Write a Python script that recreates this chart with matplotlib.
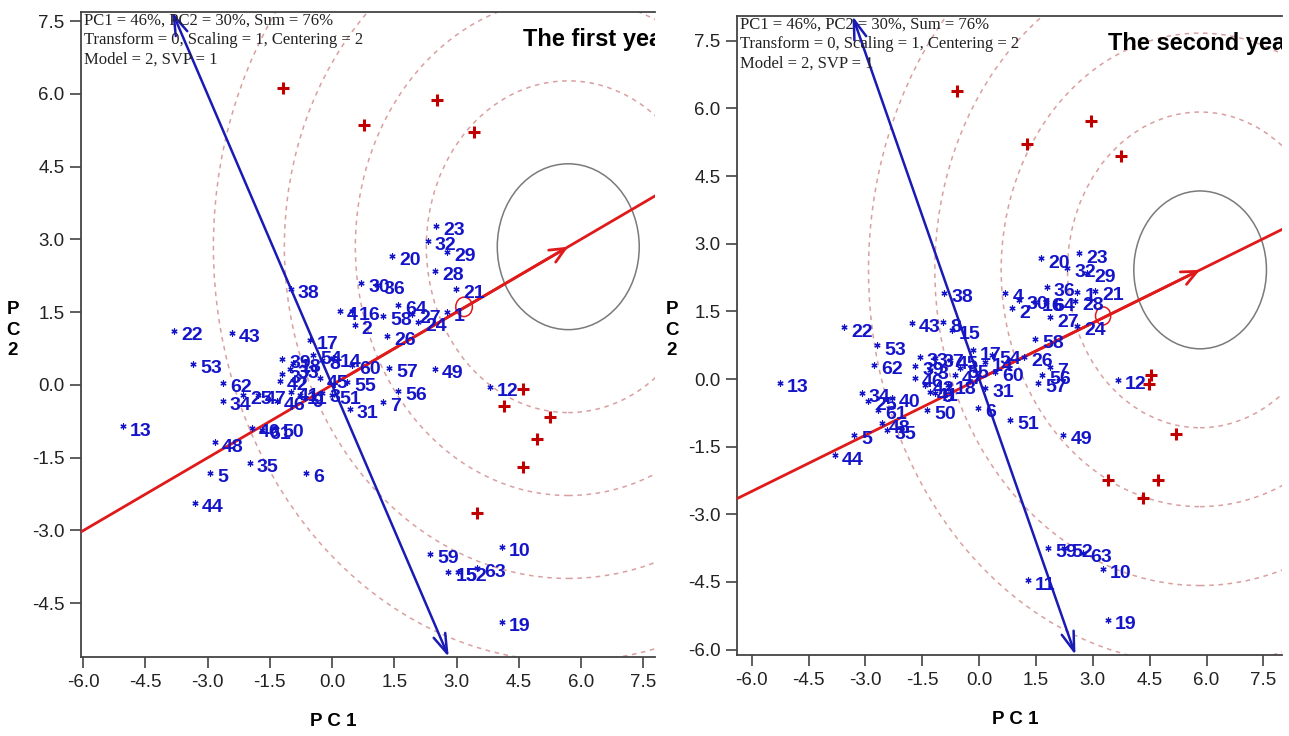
import matplotlib
matplotlib.use("Agg")
import matplotlib.pyplot as plt
from matplotlib.patches import Circle

# ---------------- data ----------------
geno = [str(i) for i in range(1, 65)]

# first year: genotype scores (PC1, PC2)
g1_x = [2.77, 0.55, -0.24, 0.19, -2.94, -0.63, 1.23, -0.24, -0.65, 4.10,
        -0.77, 3.81, -5.04, 0.02, 2.80, 0.48, -0.53, -0.94, 4.10, 1.45,
        2.99, -3.81, 2.51, 2.07, -2.14, 1.33, 1.93, 2.48, 2.77, 0.70,
        0.43, 2.31, -1.01, -2.63, -1.98, 1.08, -1.20, -0.99, -1.20, -1.93,
        -0.99, -1.25, -2.41, -3.30, -0.29, -1.33, -1.78, -2.82, 2.48, -1.37,
        0.00, 3.04, -3.35, -0.46, 0.36, 1.59, 1.37, 1.23, 2.36, 0.48,
        -1.69, -2.63, 3.49, 1.59]
g1_y = [1.51, 1.24, -0.16, 1.53, -1.81, -1.81, -0.35, 0.52, -0.27, -3.34,
        -0.21, -0.04, -0.85, 0.56, -3.86, 1.53, 0.93, 0.45, -4.89, 2.66,
        1.98, 1.11, 3.28, 1.30, -0.21, 1.01, 1.46, 2.35, 2.74, 2.10,
        -0.49, 2.97, 0.33, -0.33, -1.61, 2.06, 0.23, 1.98, 0.54, -0.89,
        -0.14, 0.08, 1.07, -2.43, 0.14, -0.33, -0.21, -1.18, 0.33, -0.89,
        -0.21, -3.86, 0.43, 0.62, 0.06, -0.12, 0.35, 1.42, -3.48, 0.41,
        -0.93, 0.04, -3.77, 1.65]
# first year: environment scores
e1_x = [-1.18, 0.77, 2.53, 3.42, 4.60, 4.14, 5.25, 4.94, 4.60, 3.49]
e1_y = [6.13, 5.37, 5.88, 5.21, -0.08, -0.43, -0.66, -1.11, -1.69, -2.65]
ideal1 = [5.69, 2.85]      # arrow head / centre of the circles
avg1 = [3.18, 1.61]        # average environment (small circle)
ring1 = 1.71

# second year
g2_x = [2.59, 0.87, -1.29, 0.69, -3.30, -0.03, 1.87, -0.95, -1.16, 3.27,
        1.29, 3.67, -5.25, 0.16, -0.71, 1.48, -0.16, -0.82, 3.40, 1.64,
        3.06, -3.56, 2.64, 2.59, -2.93, 1.19, 1.87, 2.53, 2.85, 1.06,
        0.16, 2.32, -1.56, -3.09, -2.43, 1.79, -1.16, -0.92, -1.69, -2.30,
        -1.29, -1.42, -1.77, -3.80, -0.77, -1.69, -0.63, -2.56, 2.22, -1.37,
        0.82, 2.24, -2.69, 0.34, -0.50, 1.66, 1.56, 1.48, 1.82, 0.42,
        -2.66, -2.77, 2.74, 1.77]
g2_y = [1.93, 1.57, 0.20, 1.91, -1.24, -0.64, 0.27, 1.26, -0.31, -4.21,
        -4.46, -0.02, -0.09, 0.38, 1.09, 1.71, 0.64, -0.13, -5.34, 2.68,
        1.95, 1.15, 2.79, 1.18, -0.49, 0.49, 1.37, 1.73, 2.35, 1.75,
        -0.20, 2.46, 0.49, -0.31, -1.13, 2.04, 0.47, 1.91, 0.29, -0.42,
        -0.29, -0.13, 1.24, -1.69, 0.42, 0.02, 0.09, -0.98, -1.24, -0.69,
        -0.91, -3.75, 0.75, 0.53, 0.24, 0.09, -0.09, 0.89, -3.75, 0.16,
        -0.69, 0.31, -3.86, 1.71]
e2_x = [-0.58, 1.27, 2.96, 3.75, 4.54, 4.49, 5.20, 3.40, 4.72, 4.33]
e2_y = [6.39, 5.21, 5.72, 4.94, 0.09, -0.11, -1.22, -2.24, -2.24, -2.64]
ideal2 = [5.83, 2.42]
avg2 = [3.27, 1.40]
ring2 = 1.75

info = "PC1 = 46%, PC2 = 30%, Sum = 76%\nTransform = 0, Scaling = 1, Centering = 2\nModel = 2, SVP = 1"
ticks = [-6.0, -4.5, -3.0, -1.5, 0.0, 1.5, 3.0, 4.5, 6.0, 7.5]

BLUE = "#1414c8"
RED = "#e01a1a"
DARKRED = "#c00000"
DASH = "#d9a0a0"

plt.rcParams['font.family'] = ['Liberation Sans Narrow', 'Liberation Sans', 'DejaVu Sans']

fig = plt.figure(figsize=(12.89, 7.36), dpi=100)
W, H = 1289.0, 736.0


def panel(rect, gx, gy, ex, ey, ideal, avg, ring, xlim, ylim, yticks, title, tx):
    l, t, r, b = rect
    ax = fig.add_axes([l / W, 1 - b / H, (r - l) / W, (b - t) / H])
    ax.set_xlim(xlim)
    ax.set_ylim(ylim)

    # concentric circles around the ideal genotype
    for k in range(2, 6):
        ax.add_patch(Circle(ideal, k * ring, fill=False, ec=DASH, lw=1.1,
                            ls=(0, (3, 3)), zorder=1))
    ax.add_patch(Circle(ideal, ring, fill=False, ec="#7a7a7a", lw=1.1, zorder=2))

    # average environment axis
    ax.axline((0, 0), ideal, color=RED, lw=2, zorder=3)
    ax.annotate("", xy=ideal, xytext=(0, 0),
                arrowprops=dict(arrowstyle="->,head_length=1.1,head_width=0.5",
                                color=RED, lw=2, shrinkA=0, shrinkB=0), zorder=3)
    ax.add_patch(Circle(avg, 0.2, fill=False, ec=RED, lw=1.1, zorder=3))

    # perpendicular axis through the origin
    px, py = -ideal[1], ideal[0]
    for yy in ylim:
        ax.annotate("", xy=(px * yy / py, yy), xytext=(0, 0),
                    arrowprops=dict(arrowstyle="->,head_length=1.4,head_width=0.45",
                                    color="#1a1ab4", lw=1.8, shrinkA=0, shrinkB=0),
                    zorder=3)

    # environments
    ax.scatter(ex, ey, marker="+", s=70, linewidths=2.2, color=DARKRED, zorder=4)

    # genotypes
    ax.scatter(gx, gy, marker=(6, 2, 0), s=14, linewidths=0.9, color=BLUE, zorder=5)
    for lab, x, y in zip(geno, gx, gy):
        ax.annotate(lab, (x, y), xytext=(5, -3.5), textcoords="offset points",
                    ha="left", va="center", fontsize=14, fontweight="bold",
                    color=BLUE, family=["Liberation Sans", "DejaVu Sans"], zorder=6)

    ax.text(0.006, 0.999, info, transform=ax.transAxes, ha="left", va="top",
            fontsize=12, family=["Liberation Serif", "DejaVu Serif"],
            linespacing=1.3, color="#222222", zorder=7)
    ax.text(tx, 0.975, title, transform=ax.transAxes, ha="left", va="top",
            fontsize=17, fontweight="bold", family=["Liberation Sans", "DejaVu Sans"],
            clip_on=True, zorder=7)

    ax.set_xticks(ticks)
    ax.set_yticks(yticks)
    ax.set_xticklabels(["%.1f" % v for v in ticks])
    ax.set_yticklabels(["%.1f" % v for v in yticks])
    ax.tick_params(direction="out", length=8, width=1.1, labelsize=13.5,
                   colors="#333333", labelcolor="#222222", pad=4)
    ax.spines["right"].set_visible(False)
    for s in ("left", "bottom", "top"):
        ax.spines[s].set_color("#444444")
        ax.spines[s].set_linewidth(1.3)
    return ax


panel((81, 12, 655, 657), g1_x, g1_y, e1_x, e1_y, ideal1, avg1, ring1,
      (-6.05, 7.78), (-5.61, 7.69), ticks[1:], "The first year", 0.770)
panel((737, 16, 1282, 655), g2_x, g2_y, e2_x, e2_y, ideal2, avg2, ring2,
      (-6.39, 7.99), (-6.12, 8.05), ticks, "The second year", 0.680)

# axis titles
for xc, yc in ((333, 722), (1015, 720)):
    fig.text(xc / W, 1 - yc / H, "P C 1", ha="center", va="center",
             fontsize=13.5, fontweight="bold", family=["Liberation Sans", "DejaVu Sans"])
for xc, yc in ((13, 330), (672, 330)):
    fig.text(xc / W, 1 - yc / H, "P\nC\n2", ha="center", va="center",
             fontsize=13.5, fontweight="bold", linespacing=1.25,
             family=["Liberation Sans", "DejaVu Sans"])

fig.savefig("out.png", dpi=100)
